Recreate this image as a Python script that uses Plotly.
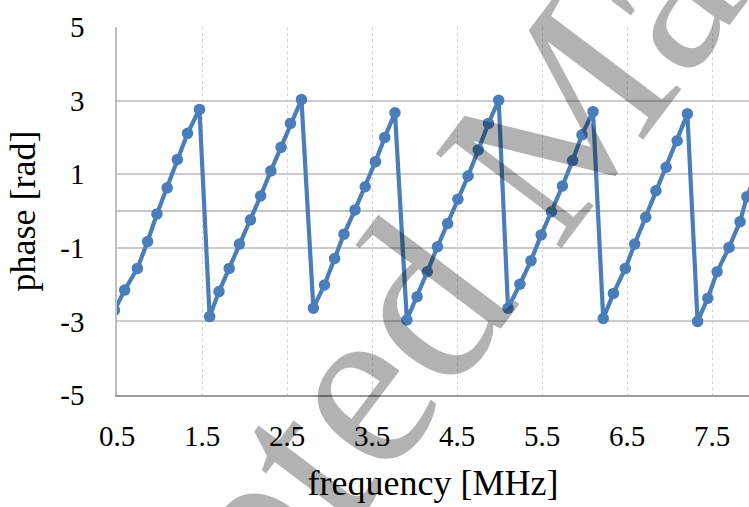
import plotly.graph_objects as go

# frequency [MHz] and phase [rad]
freq = [0.47, 0.59, 0.74, 0.86, 0.97, 1.09, 1.21, 1.33, 1.47,
        1.59, 1.70, 1.82, 1.94, 2.07, 2.19, 2.31, 2.43, 2.54, 2.67,
        2.81, 2.94, 3.06, 3.17, 3.30, 3.42, 3.54, 3.65, 3.77,
        3.91, 4.03, 4.15, 4.27, 4.39, 4.51, 4.63, 4.75, 4.87, 4.99,
        5.10, 5.24, 5.37, 5.49, 5.61, 5.74, 5.86, 5.97, 6.10,
        6.22, 6.34, 6.48, 6.59, 6.72, 6.84, 6.96, 7.09, 7.21,
        7.33, 7.45, 7.56, 7.70, 7.83, 7.91, 8.03]
phase = [-2.70, -2.15, -1.56, -0.83, -0.08, 0.63, 1.40, 2.11, 2.76,
         -2.87, -2.19, -1.56, -0.90, -0.24, 0.41, 1.09, 1.73, 2.38, 3.03,
         -2.64, -2.01, -1.29, -0.63, 0.03, 0.66, 1.34, 2.00, 2.67,
         -2.96, -2.33, -1.65, -0.97, -0.34, 0.32, 0.95, 1.66, 2.38, 3.01,
         -2.64, -1.99, -1.35, -0.65, -0.02, 0.68, 1.37, 2.07, 2.70,
         -2.92, -2.24, -1.56, -0.90, -0.17, 0.55, 1.19, 1.91, 2.64,
         -3.00, -2.37, -1.65, -0.99, -0.29, 0.39, 1.05]

x_tick_vals = [0.5, 1.5, 2.5, 3.5, 4.5, 5.5, 6.5, 7.5]
x_tick_text = ["0.5", "1.5", "2.5", "3.5", "4.5", "5.5", "6.5", "7.5"]
y_tick_vals = [-5, -3, -1, 1, 3, 5]
y_tick_text = ["-5", "-3", "-1", "1", "3", "5"]

x_title = "frequency [MHz]"
y_title = "phase [rad]"
watermark = "Accepted Manuscript"

BLUE = "#4A7EBB"
SERIF = "Liberation Serif, Times New Roman, serif"

fig = go.Figure()
fig.add_trace(go.Scatter(
    x=freq, y=phase, mode="lines+markers",
    line=dict(color=BLUE, width=4.2),
    marker=dict(color=BLUE, size=11.5),
    showlegend=False,
))

fig.update_layout(
    width=749, height=507,
    margin=dict(l=117, r=0, t=27, b=112, pad=0),
    paper_bgcolor="white", plot_bgcolor="white",
    font=dict(family=SERIF, color="black"),
)

fig.update_xaxes(
    range=[0.5, 7.935],
    tickvals=x_tick_vals, ticktext=x_tick_text,
    tickfont=dict(size=29, family=SERIF, color="black"),
    ticks="outside", ticklen=14, tickcolor="rgba(0,0,0,0)",
    showgrid=True, gridcolor="#d6d6d6", gridwidth=1, griddash="dot",
    showline=True, linecolor="#9a9a9a", linewidth=1.5,
    zeroline=False,
    title=dict(text=x_title, font=dict(size=36, family=SERIF, color="black"), standoff=19),
    automargin=False,
)
fig.update_yaxes(
    range=[-5, 5],
    tickvals=y_tick_vals, ticktext=y_tick_text,
    tickfont=dict(size=29, family=SERIF, color="black"),
    ticks="outside", ticklen=25, tickcolor="rgba(0,0,0,0)",
    showgrid=True, gridcolor="#cccccc", gridwidth=1.5,
    showline=True, linecolor="#bfbfbf", linewidth=1.5,
    zeroline=True, zerolinecolor="#c4c4c4", zerolinewidth=1.5,
    title=dict(text=y_title, font=dict(size=36, family=SERIF, color="black"), standoff=14),
    automargin=False,
)

fig.add_annotation(
    text=watermark, xref="paper", yref="paper",
    x=0.655, y=0.655, xanchor="center", yanchor="middle",
    showarrow=False, textangle=-53,
    font=dict(size=240, family=SERIF, color="rgba(0,0,0,0.3)"),
)

fig.write_html("out.html")
